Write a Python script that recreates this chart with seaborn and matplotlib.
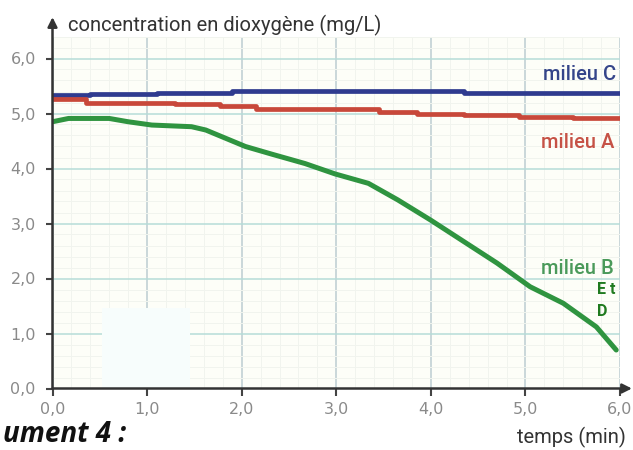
import matplotlib
matplotlib.use("Agg")
import matplotlib.pyplot as plt
from matplotlib.patches import Rectangle
import numpy as np
import pandas as pd
import seaborn as sns

# ---- data ----
time_C = [0, 0.4, 1.1, 1.9, 4.35, 6.0]
conc_C = [5.34, 5.35, 5.38, 5.41, 5.37, 5.37]

time_A = [0, 0.35, 1.3, 1.77, 2.15, 3.45, 3.85, 4.35, 4.93, 5.5, 6.0]
conc_A = [5.26, 5.20, 5.17, 5.14, 5.09, 5.03, 5.00, 4.97, 4.94, 4.91, 4.91]

time_B = [0, 0.17, 0.6, 0.8, 1.05, 1.47, 1.62, 1.83, 2.04, 2.32, 2.67, 2.99,
          3.34, 3.65, 4.0, 4.35, 4.7, 5.05, 5.4, 5.75, 5.96]
conc_B = [4.85, 4.91, 4.91, 4.85, 4.79, 4.76, 4.70, 4.55, 4.40, 4.26, 4.09, 3.90,
          3.73, 3.43, 3.06, 2.67, 2.28, 1.85, 1.55, 1.12, 0.70]

x_ticks = [0, 1, 2, 3, 4, 5, 6]
x_ticklabels = ["0,0", "1,0", "2,0", "3,0", "4,0", "5,0", "6,0"]
y_ticks = [0, 1, 2, 3, 4, 5, 6]
y_ticklabels = ["0,0", "1,0", "2,0", "3,0", "4,0", "5,0", "6,0"]

col_C = "#2f3b8f"
col_A = "#c8483a"
col_B = "#2f9440"

sns.set_theme(style="white")
plt.rcParams["font.family"] = ["Roboto", "DejaVu Sans"]

fig = plt.figure(figsize=(6.33, 4.50), dpi=100)
fig.patch.set_facecolor("white")
ax = fig.add_axes([52.5 / 633, (450 - 388.5) / 450, (620 - 52.5) / 633, (388.5 - 36.5) / 450])
ax.set_facecolor("#fdfef8")
ax.set_xlim(0, 6.0)
ax.set_ylim(0, 6.4)

# grid
ax.set_xticks(np.arange(0, 6.01, 0.2), minor=True)
ax.set_yticks(np.arange(0, 6.41, 0.2), minor=True)
ax.grid(which="minor", color="#f1f4ee", linewidth=0.7)
ax.set_xticks(x_ticks)
ax.set_yticks(y_ticks)
ax.xaxis.grid(True, which="major", color="#bccdd2", linewidth=1.1)
ax.yaxis.grid(True, which="major", color="#b6ddd8", linewidth=1.1)
ax.set_axisbelow(True)

# redaction patch
ax.add_patch(Rectangle((0.52, 0.0), 0.93, 1.47, facecolor="#f7fdfc", edgecolor="none", zorder=1.5))

df_C = pd.DataFrame({"t": time_C, "c": conc_C})
df_A = pd.DataFrame({"t": time_A, "c": conc_A})
df_B = pd.DataFrame({"t": time_B, "c": conc_B})
sns.lineplot(data=df_C, x="t", y="c", ax=ax, color=col_C, linewidth=3.4, drawstyle="steps-post", zorder=3)
sns.lineplot(data=df_A, x="t", y="c", ax=ax, color=col_A, linewidth=3.4, drawstyle="steps-post", zorder=3)
sns.lineplot(data=df_B, x="t", y="c", ax=ax, color=col_B, linewidth=3.6, zorder=3)

ax.set_xticklabels(x_ticklabels, family=["DejaVu Sans"])
ax.set_yticklabels(y_ticklabels, family=["DejaVu Sans"])
ax.tick_params(axis="both", which="major", labelsize=11.5, labelcolor="#8a8a8a",
               length=5, width=1.5, color="#444444", direction="out", pad=5)
ax.tick_params(axis="both", which="minor", length=0)
ax.tick_params(axis="x", bottom=True)
ax.tick_params(axis="y", left=True, pad=7)
ax.set_xlabel("")
ax.set_ylabel("")

for s in ax.spines.values():
    s.set_visible(False)

# axes with arrows
ax.annotate("", xy=(1.021, 0), xytext=(0, 0), xycoords="axes fraction",
            arrowprops=dict(arrowstyle="-|>", color="#333333", lw=1.8, mutation_scale=14,
                            shrinkA=0, shrinkB=0), annotation_clip=False)
ax.annotate("", xy=(0, 1.055), xytext=(0, 0), xycoords="axes fraction",
            arrowprops=dict(arrowstyle="-|>", color="#333333", lw=1.8, mutation_scale=14,
                            shrinkA=0, shrinkB=0), annotation_clip=False)

# texts
fig.text(68 / 633, 1 - 25 / 450, "concentration en dioxygène (mg/L)", fontsize=14.5,
         color="#333333", ha="left", va="center")
fig.text(626 / 633, 1 - 437 / 450, "temps (min)", fontsize=14.5, color="#333333",
         ha="right", va="center")
fig.text(616 / 633, 1 - 75 / 450, "milieu C", fontsize=14.5, color="#35458a",
         ha="right", va="center", fontweight="medium")
fig.text(614 / 633, 1 - 142 / 450, "milieu A", fontsize=14.5, color="#c65246",
         ha="right", va="center", fontweight="medium")
fig.text(614 / 633, 1 - 268 / 450, "milieu B", fontsize=14.5, color="#4a9a5a",
         ha="right", va="center", fontweight="medium")
fig.text(597 / 633, 1 - 290 / 450, "E t", fontsize=11.5, color="#1f7a1f",
         ha="left", va="center", fontweight="bold")
fig.text(597 / 633, 1 - 311 / 450, "D", fontsize=11.5, color="#1f7a1f",
         ha="left", va="center", fontweight="bold")
fig.text(3 / 633, 1 - 449 / 450, "ument 4 :", fontsize=20, color="#111111",
         ha="left", va="bottom", fontweight="bold", style="italic",
         family=["Open Sans", "DejaVu Sans"])

fig.savefig("out.png", dpi=100)
